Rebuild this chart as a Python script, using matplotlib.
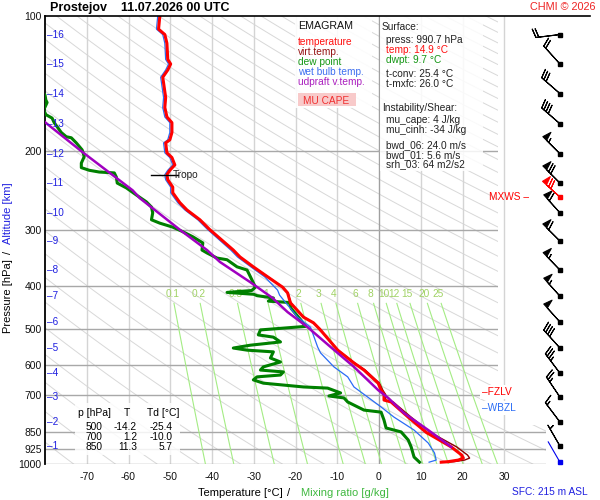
import numpy as np
import matplotlib
matplotlib.use('Agg')
import matplotlib.pyplot as plt
from matplotlib.patches import Rectangle
from matplotlib.lines import Line2D
from matplotlib.ticker import NullLocator

plt.rcParams['font.family'] = ['Liberation Sans', 'DejaVu Sans']

# ---- sounding data ----
# temperature
t_p = [100, 107, 110, 115, 125, 128, 132, 137, 141, 152, 160, 168, 173, 182, 189, 192, 202, 207, 215, 221,
       226, 232, 241, 248, 261, 271, 285, 300, 333, 345, 363, 382, 403, 415, 437, 470, 484, 500, 557, 595,
       617, 660, 684, 700, 720, 727, 786, 850, 916, 955, 970, 980, 988, 990.7]
t_t = [-52.5, -52.8, -51.3, -50.8, -50.6, -49.9, -50.6, -51.8, -51.6, -51.1, -51.3, -50.8, -49.6, -49.6, -50.1, -51.1, -50.8, -49.6, -48.9, -50.1,
       -50.8, -50.6, -49.4, -49.4, -47.7, -46.0, -42.9, -40.5, -34.9, -33.3, -30.1, -26.7, -23.1, -21.9, -21.2, -18.1, -15.7, -14.2, -9.9, -6.0,
       -3.6, -0.2, 0.5, 1.2, 1.2, 2.9, 7.0, 11.3, 17.3, 19.8, 20.2, 19.0, 16.6, 14.9]
# virtual temperature (same levels)
tv_t = [-52.5, -52.8, -51.3, -50.8, -50.6, -49.9, -50.6, -51.8, -51.6, -51.1, -51.3, -50.8, -49.6, -49.6, -50.1, -51.1, -50.8, -49.6, -48.9, -50.1,
        -50.8, -50.6, -49.4, -49.4, -47.7, -46.0, -42.9, -40.5, -34.9, -33.3, -30.1, -26.6, -23.0, -21.8, -21.1, -18.0, -15.6, -14.1, -9.8, -5.8,
        -3.3, 0.1, 0.9, 1.6, 1.6, 3.4, 7.7, 12.3, 18.6, 21.2, 21.7, 20.5, 18.0, 16.2]
# dew point
td_p = [140, 150, 154, 156, 162, 166, 169, 173, 182, 186, 187, 192, 199, 206, 213, 218, 221, 223, 224, 229,
        236, 242, 251, 260, 267, 275, 285, 290, 296, 303, 311, 321, 333, 338, 347, 350, 363, 369, 382, 403,
        410, 414, 418, 421, 426, 433, 436, 450, 476, 493, 502, 515, 521, 534, 543, 551, 557, 562, 580, 592,
        607, 617, 623, 633, 639, 649, 660, 673, 677, 694, 705, 712, 727, 758, 766, 798, 831, 848, 884, 916,
        965, 990.7]
td_t = [-83.0, -80.0, -79.8, -79.5, -80.3, -79.8, -78.3, -77.8, -76.1, -74.9, -73.7, -72.5, -71.1, -70.6, -71.3, -71.3, -69.4, -67.0, -63.4, -62.9,
        -62.7, -60.5, -58.1, -55.7, -54.5, -54.2, -54.5, -52.5, -49.4, -47.0, -44.6, -42.2, -42.4, -41.2, -38.8, -36.4, -34.0, -31.6, -30.8, -29.6,
        -30.5, -36.4, -30.0, -29.2, -25.3, -26.5, -21.5, -21.0, -18.8, -17.6, -28.4, -28.9, -25.3, -23.6, -30.8, -34.9, -31.6, -25.3, -26.0, -23.6,
        -27.7, -28.4, -22.9, -23.6, -29.2, -30.1, -27.7, -18.1, -12.3, -9.2, -12.0, -8.4, -7.5, -3.6, 0.5, 1.2, 1.7, 5.3, 7.0, 7.7,
        8.4, 9.7]
# wet bulb temperature
tw_p = [100, 107, 110, 115, 125, 128, 132, 137, 141, 152, 160, 168, 173, 182, 189, 192, 202, 207, 215, 221,
        226, 232, 241, 248, 261, 271, 285, 300, 333, 345, 363, 382, 409, 420, 437, 470, 495, 548, 565, 607,
        639, 673, 709, 746, 786, 840, 898, 945, 980, 990.7]
tw_t = [-53.0, -53.3, -51.8, -51.3, -51.1, -50.4, -51.1, -52.3, -52.1, -51.6, -51.8, -51.3, -50.1, -50.1, -50.6, -51.6, -51.3, -50.1, -49.4, -50.6,
        -51.3, -51.1, -49.9, -49.9, -48.2, -46.5, -43.4, -41.0, -35.5, -33.9, -30.7, -27.4, -24.3, -23.8, -22.3, -19.5, -16.4, -14.7, -14.0, -10.8,
        -7.5, -6.0, -2.7, 0.5, 3.6, 8.4, 11.8, 13.3, 13.7, 12.0]
# updraft virtual temperature (MU parcel)
pc_p = [160, 172, 201, 245, 255, 300, 333, 354, 393, 426, 458, 495, 548, 607, 684, 712, 770, 840, 916]
pc_t = [-84.4, -80.2, -71.1, -59.0, -57.3, -47.7, -41.2, -38.1, -30.8, -25.5, -21.9, -17.1, -11.6, -6.0, -0.2, 2.2, 6.0, 11.8, 17.3]

# altitude marks (km) -> pressure, wind at each km
alt_km = list(range(1, 17))
alt_p = [912, 806, 709, 627, 551, 482, 422, 369, 318, 275, 236, 203, 174, 149, 128, 110]
wdir = [330, 323, 326, 323, 318, 318, 318, 316, 315, 318, 315, 315, 311, 311, 318, 263]
wspd = [5, 15, 25, 35, 40, 50, 55, 55, 60, 60, 70, 55, 40, 30, 20, 20]
mxws_p, mxws_dir, mxws_spd = 253, 312, 72
sfc_dir = 330

tropo_p = 226
fzlv_p = 691
wbzl_p = 750

mix_w = [0.1, 0.2, 0.5, 1, 2, 3, 4, 6, 8, 10, 12, 15, 20, 25]

tbl_p = [500, 700, 850]
tbl_t = [-14.2, 1.2, 11.3]
tbl_td = [-25.4, -10.0, 5.7]

sfc_press, sfc_temp, sfc_dwpt = 990.7, 14.9, 9.7
t_conv, t_mxfc = 25.4, 26.0
mu_cape, mu_cinh = 4, -34
bwd_06, bwd_01, srh_03 = 24.0, 5.6, 64
sfc_alt = 215

p_ticks = [100, 200, 300, 400, 500, 600, 700, 850, 925, 1000]

RED = '#ff0000'
GREEN = '#008000'
BLUE = '#2a6cf5'
PURPLE = '#a000c0'
KMBLUE = '#2020e0'
MIXG = '#a4ec84'

W, H = 600, 500
fig = plt.figure(figsize=(6, 5), dpi=100)


def fx(px):
    return px / W


def fy(py):
    return 1 - py / H


ax = fig.add_axes([fx(45), fy(464), (546 - 45) / W, (464 - 16) / H])
ax.set_yscale('log')
ax.set_xlim(-80, 40)
ax.set_ylim(1000, 100)
ax.set_yticks(p_ticks)
ax.set_yticklabels([str(p) for p in p_ticks])
ax.yaxis.set_minor_locator(NullLocator())
ax.set_xticks(range(-70, 31, 10))
ax.set_xticklabels([str(t) for t in range(-70, 31, 10)])
ax.tick_params(axis='y', length=0, labelsize=7.5, pad=2.5, colors='#111111')
ax.tick_params(axis='x', length=0, labelsize=7.5, pad=6, colors='#111111')
for s in ['top', 'right', 'bottom']:
    ax.spines[s].set_visible(False)
ax.spines['left'].set_linewidth(1.3)

# dry adiabats (drawn a little flatter, as on the chart)
pp = np.geomspace(100, 1000, 120)
for th in np.arange(190, 700, 10):
    ax.plot(th * (pp / 1000.0) ** 0.31 - 273.15, pp, color='#d8d8d8', lw=0.7, zorder=1)

# isotherms
for t in range(-70, 40, 10):
    if t == 0:
        ax.axvline(t, color='#a0a0a0', lw=1.0, zorder=1.3)
    elif t == 30:
        ax.axvline(t, color='#d4d4d4', lw=1.0, zorder=2.5)
    else:
        ax.axvline(t, color='#d4d4d4', lw=1.0, zorder=1.2)

# isobars
for p in p_ticks[1:]:
    right = 40 if p >= 850 else 28.4
    ax.plot([-80, right], [p, p], color='#a8a8a8', lw=1.0, zorder=1.4)

# blank column at the right of the upper part
ax.add_patch(Rectangle((28.4, 100), 11.6, 720, facecolor='white', edgecolor='none', zorder=2))

# mixing ratio lines
pm = np.geomspace(438, 1000, 40)
for w in mix_w:
    e = w * pm / (622.0 + w)
    g = np.log(e / 6.112)
    ax.plot(243.5 * g / (17.67 - g), pm, color=MIXG, lw=0.8, zorder=3)
    e0 = w * 417 / (622.0 + w)
    g0 = np.log(e0 / 6.112)
    lab = ('%g' % w)
    ax.text(243.5 * g0 / (17.67 - g0), 417, lab, color='#a0d264', fontsize=7.3,
            ha='center', va='center', zorder=3)

# profiles
ax.plot(td_t, td_p, color=GREEN, lw=2.2, zorder=5)
ax.plot(tw_t, tw_p, color=BLUE, lw=0.9, zorder=6)
ax.plot(tv_t, t_p, color='#8b0000', lw=1.0, zorder=6.5)
ax.plot(t_t, t_p, color=RED, lw=2.2, zorder=7)
ax.plot(pc_t, pc_p, color=PURPLE, lw=1.8, zorder=8)

# tropopause
ax.plot([-54.7, -48.2], [tropo_p, tropo_p], color='k', lw=1.0, zorder=9)
ax.text(-49.4, tropo_p + 1, 'Tropo', fontsize=7.3, va='center', ha='left', color='#222222', zorder=9)

# altitude labels
for km, p in zip(alt_km, alt_p):
    ax.text(-79.6, p, '\u2013' + str(km), color=KMBLUE, fontsize=7.2, va='center', ha='left', zorder=9)

# freezing levels and max wind
ax.text(24.6, fzlv_p, '\u2013FZLV', color=RED, fontsize=7.3, va='center', ha='left', zorder=9,
        bbox=dict(facecolor='white', edgecolor='none', pad=1.2))
ax.text(24.6, wbzl_p, '\u2013WBZL', color=BLUE, fontsize=7.3, va='center', ha='left', zorder=9,
        bbox=dict(facecolor='white', edgecolor='none', pad=1.2))
ax.text(26.3, mxws_p, 'MXWS \u2013', color=RED, fontsize=7.3, va='center', ha='left', zorder=9)

# ---- wind barbs column ----
axw = fig.add_axes([fx(496), fy(464), 104 / W, (464 - 16) / H])
axw.set_yscale('log')
axw.set_xlim(0, 1)
axw.set_ylim(1000, 100)
axw.axis('off')
axw.patch.set_visible(False)
xb = 0.615
d = np.deg2rad(wdir)
u = -np.array(wspd) * np.sin(d)
v = -np.array(wspd) * np.cos(d)
inc = dict(half=5, full=10, flag=50)
BL = 5.9
bsz = dict(height=0.36, spacing=0.12, width=0.22)
axw.barbs(np.full(len(alt_p), xb), alt_p, u, v, length=BL, pivot='tip', color='k', sizes=bsz,
          linewidth=0.8, barb_increments=inc, clip_on=False)
axw.plot(np.full(len(alt_p), xb), alt_p, 's', color='k', ms=2.3, clip_on=False)
dm = np.deg2rad(mxws_dir)
axw.barbs([xb], [mxws_p], [-mxws_spd * np.sin(dm)], [-mxws_spd * np.cos(dm)], length=BL, sizes=bsz,
          pivot='tip', color=RED, linewidth=0.8, barb_increments=inc, clip_on=False)
axw.plot([xb], [mxws_p], 's', color=RED, ms=2.3, clip_on=False)
ds = np.deg2rad(sfc_dir)
axw.annotate('', xy=(xb, sfc_press), xytext=(17 * np.sin(ds), 17 * np.cos(ds)), textcoords='offset points',
             arrowprops=dict(arrowstyle='-', color='#0000ee', lw=0.8, shrinkA=0, shrinkB=0))
axw.plot([xb], [sfc_press], 's', color='#0000ee', ms=2.3, clip_on=False)

# ---- frame line on top ----
fig.add_artist(Line2D([fx(45), fx(590)], [fy(16), fy(16)], color='k', lw=1.2, zorder=5))

# ---- boxes ----
fig.add_artist(Rectangle((fx(295), fy(108)), 77 / W, 92 / H, transform=fig.transFigure,
                         facecolor='white', edgecolor='none', alpha=0.9, zorder=1))
fig.add_artist(Rectangle((fx(380), fy(171)), 103 / W, 155 / H, transform=fig.transFigure,
                         facecolor='white', edgecolor='none', alpha=0.85, zorder=1))
fig.add_artist(Rectangle((fx(75), fy(455)), 105 / W, 52 / H, transform=fig.transFigure,
                         facecolor='white', edgecolor='none', alpha=0.85, zorder=1))
fig.add_artist(Rectangle((fx(298), fy(106)), 58 / W, 13 / H, transform=fig.transFigure,
                         facecolor='#f8caca', edgecolor='none', zorder=1.5))

# title and credits
fig.text(fx(50), fy(8), 'Prostejov    11.07.2026 00 UTC', fontsize=9, fontweight='bold', va='center', ha='left')
fig.text(fx(596), fy(7), 'CHMI \u00a9 2026', fontsize=7.8, color='#ee2222', va='center', ha='right')
fig.text(fx(512), fy(492), 'SFC: %d m ASL' % sfc_alt, fontsize=7.3, color=KMBLUE, va='center', ha='left')

# axis titles
fig.text(fx(8), fy(296), 'Pressure [hPa]', rotation=90, fontsize=8, va='center', ha='center')
fig.text(fx(8), fy(252), '/', rotation=90, fontsize=8, va='center', ha='center')
fig.text(fx(8), fy(213), 'Altitude [km]', rotation=90, fontsize=8, va='center', ha='center', color=KMBLUE)
fig.text(fx(240), fy(493), 'Temperature [\u00b0C]', fontsize=8, va='center', ha='center')
fig.text(fx(289), fy(493), '/', fontsize=8, va='center', ha='center')
fig.text(fx(345), fy(493), 'Mixing ratio [g/kg]', fontsize=8, va='center', ha='center', color='#40b840')

# legend
leg = [('EMAGRAM', '#111111', 26, 7.7), ('temperature', '#ff1010', 42, 7.3), ('virt.temp.', '#961414', 52, 7.3),
       ('dew point', '#149614', 62, 7.3), ('wet bulb temp.', '#3c6ef0', 72, 7.3), ('udpraft v.temp.', '#aa1ebe', 82, 7.3)]
for s, c, y, fs in leg:
    fig.text(fx(298), fy(y), s, color=c, fontsize=fs, va='center', ha='left')
fig.text(fx(303), fy(101), 'MU CAPE', color='#f03030', fontsize=7.3, va='center', ha='left')

# surface / instability info
info = [('Surface:', '#222222', 382, 27),
        ('press: %.1f hPa' % sfc_press, '#222222', 386, 40),
        ('temp: %.1f \u00b0C' % sfc_temp, '#ff1010', 386, 50),
        ('dwpt: %.1f \u00b0C' % sfc_dwpt, '#149614', 386, 60),
        ('t-conv: %.1f \u00b0C' % t_conv, '#222222', 386, 74),
        ('t-mxfc: %.1f \u00b0C' % t_mxfc, '#222222', 386, 84),
        ('Instability/Shear:', '#222222', 382, 108),
        ('mu_cape: %d J/kg' % mu_cape, '#222222', 386, 120),
        ('mu_cinh: %d J/kg' % mu_cinh, '#222222', 386, 130),
        ('bwd_06: %.1f m/s' % bwd_06, '#222222', 386, 145),
        ('bwd_01: %.1f m/s' % bwd_01, '#222222', 386, 155),
        ('srh_03: %d m2/s2' % srh_03, '#222222', 386, 164)]
for s, c, x, y in info:
    fig.text(fx(x), fy(y), s, color=c, fontsize=7.3, va='center', ha='left')

# table
fig.text(fx(78), fy(413), 'p [hPa]', fontsize=7.5, va='center', ha='left')
fig.text(fx(127), fy(413), 'T', fontsize=7.5, va='center', ha='center')
fig.text(fx(147), fy(413), 'Td [\u00b0C]', fontsize=7.5, va='center', ha='left')
for i, (p, t, td) in enumerate(zip(tbl_p, tbl_t, tbl_td)):
    y = 427 + 10 * i
    fig.text(fx(102), fy(y), str(p), fontsize=7.3, va='center', ha='right')
    fig.text(fx(137), fy(y), '%.1f' % t, fontsize=7.3, va='center', ha='right')
    fig.text(fx(173), fy(y), '%.1f' % td, fontsize=7.3, va='center', ha='right')

fig.savefig('out.png', dpi=100)
